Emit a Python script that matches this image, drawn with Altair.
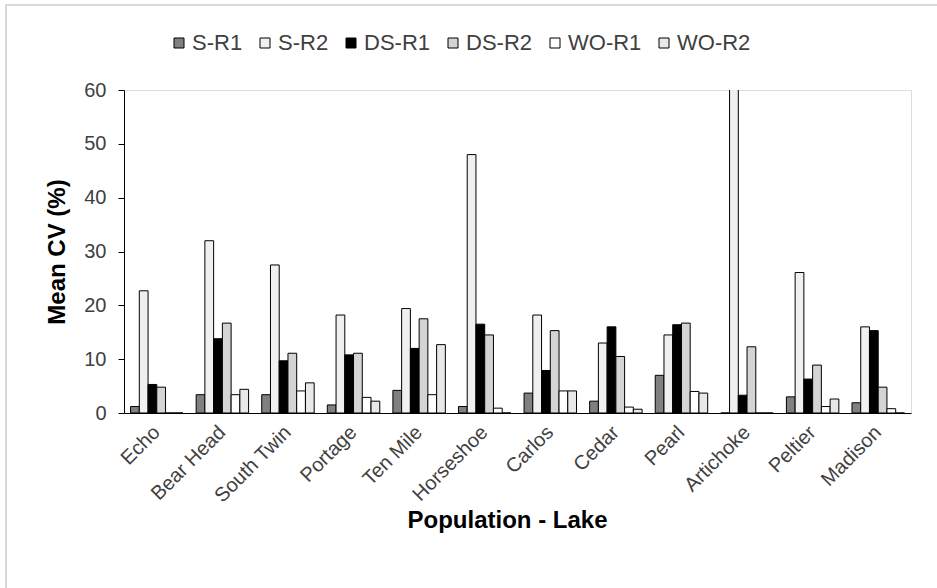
import altair as alt
import pandas as pd

lakes = ["Echo", "Bear Head", "South Twin", "Portage", "Ten Mile", "Horseshoe",
         "Carlos", "Cedar", "Pearl", "Artichoke", "Peltier", "Madison"]
series = ["S-R1", "S-R2", "DS-R1", "DS-R2", "WO-R1", "WO-R2"]

s_r1 = [1.2, 3.4, 3.4, 1.5, 4.2, 1.2, 3.7, 2.2, 7.0, 0.0, 3.0, 1.9]
s_r2 = [22.7, 32.0, 27.5, 18.2, 19.4, 48.0, 18.2, 13.0, 14.5, 65.0, 26.1, 16.0]
ds_r1 = [5.3, 13.8, 9.7, 10.8, 12.0, 16.5, 7.9, 16.0, 16.4, 3.3, 6.3, 15.3]
ds_r2 = [4.8, 16.7, 11.1, 11.1, 17.5, 14.5, 15.3, 10.5, 16.7, 12.3, 8.9, 4.8]
wo_r1 = [0.0, 3.4, 4.1, 2.9, 3.4, 0.9, 4.1, 1.1, 4.0, 0.0, 1.2, 0.8]
wo_r2 = [0.0, 4.4, 5.6, 2.2, 12.7, 0.0, 4.1, 0.7, 3.7, 0.0, 2.6, 0.0]

y_ticks = [0, 10, 20, 30, 40, 50, 60]
fills = ["#808080", "#f0f0f0", "#000000", "#d4d4d4", "#ffffff", "#e8e8e8"]

values = [s_r1, s_r2, ds_r1, ds_r2, wo_r1, wo_r2]
rows = []
for s, vals in zip(series, values):
    for lake, v in zip(lakes, vals):
        rows.append({"lake": lake, "series": s, "value": v})
df = pd.DataFrame(rows)

FONT = "Liberation Sans"

bars = alt.Chart(df).mark_bar(stroke="black", strokeWidth=1, clip=True).encode(
    x=alt.X("lake:N", sort=lakes,
            scale=alt.Scale(paddingInner=0.2, paddingOuter=0.1),
            axis=alt.Axis(title="Population - Lake", labelAngle=-45, labelFontSize=20,
                          labelColor="#404040", labelFont=FONT, ticks=False,
                          domainColor="black", labelPadding=16,
                          labelAlign="right", labelBaseline="middle",
                          titleFont=FONT, titleFontSize=24, titleFontWeight="bold",
                          titleColor="black", titleY=107, titleX=383,
                          titleAlign="center", titleBaseline="middle")),
    xOffset=alt.XOffset("series:N", sort=series,
                        scale=alt.Scale(paddingInner=0, paddingOuter=0)),
    y=alt.Y("value:Q", scale=alt.Scale(domain=[0, 60], nice=False),
            axis=alt.Axis(title="Mean CV (%)", values=y_ticks, grid=False,
                          tickSize=6, tickColor="black", domainColor="black",
                          labelFontSize=20, labelColor="#404040", labelFont=FONT,
                          labelPadding=12,
                          titleFont=FONT, titleFontSize=24, titleFontWeight="bold",
                          titleColor="black", titleX=-67, titleBaseline="middle")),
    color=alt.Color("series:N", sort=series,
                    scale=alt.Scale(domain=series, range=fills),
                    legend=alt.Legend(title=None, orient="none", direction="horizontal",
                                      legendX=44, legendY=-58, columns=6,
                                      symbolType="square", symbolSize=100,
                                      symbolStrokeColor="black", symbolStrokeWidth=1,
                                      labelFont=FONT, labelFontSize=22, labelColor="#404040",
                                      labelOffset=2, columnPadding=11, padding=0)),
)

frame = alt.Chart(df).mark_rect(fill=None, stroke="#d9d9d9", strokeWidth=2).encode(
    x=alt.value(-118), x2=alt.value(900), y=alt.value(-85), y2=alt.value(600)
)

chart = alt.layer(frame, bars).properties(
    width=787, height=323,
    padding={"left": 124, "top": 90, "right": 26, "bottom": 175},
    autosize="none",
).configure_view(stroke=None).configure(background="white")

chart.save("out.html", embed_options={"renderer": "svg", "actions": False})
